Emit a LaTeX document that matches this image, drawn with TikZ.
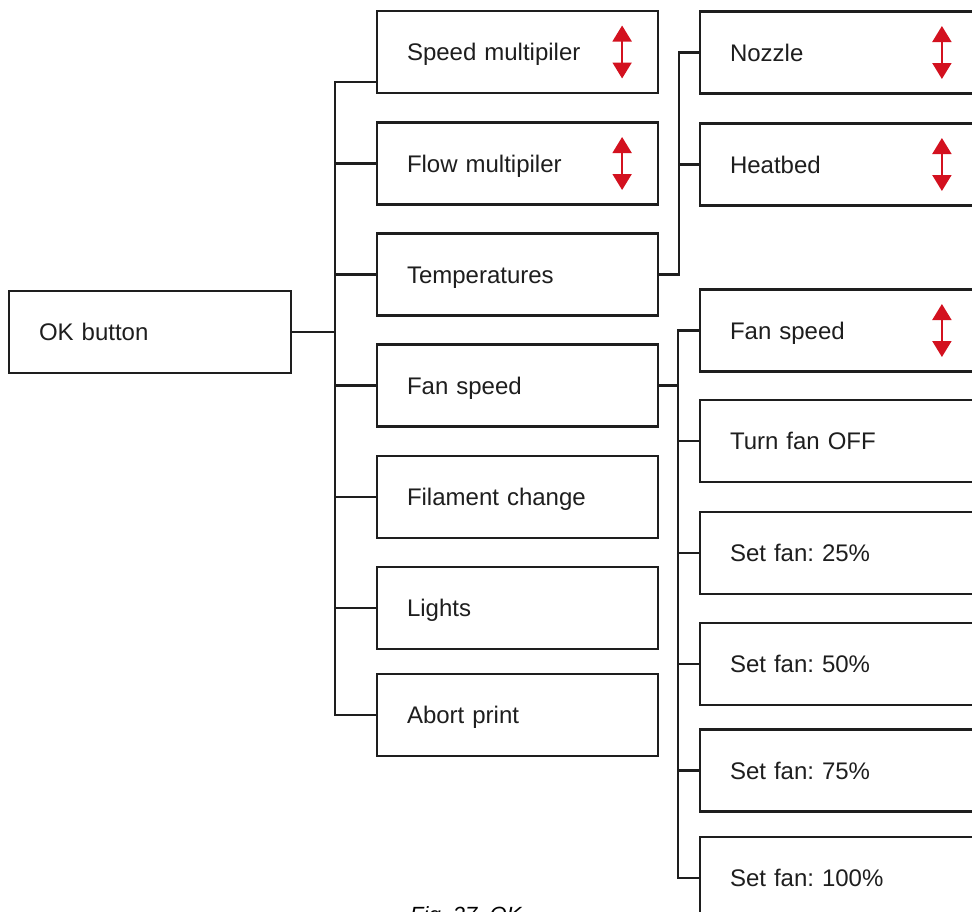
\documentclass[tikz,border=0pt]{standalone}
\usepackage{fontspec}
\setmainfont{Liberation Sans}
\usetikzlibrary{arrows.meta}
\frenchspacing

\definecolor{ink}{HTML}{1E1E1E}
\definecolor{menured}{HTML}{D3111F}

\tikzset{
  menubox/.style={draw=ink, line width=2.2pt, fill=white, rectangle,
    minimum height=82pt, inner ysep=0pt, inner xsep=30pt,
    text width=#1, align=left, text height=17.2pt, text depth=0pt,
    font=\fontsize{24}{28}\selectfont, text=ink},
  midbox/.style={menubox=221pt},
  subbox/.style={menubox=240pt},
  rootbox/.style={menubox=222pt},
  link/.style={draw=ink, line width=2.2pt},
  updown/.style={draw=menured, line width=2pt,
    {Triangle[width=19pt,length=16pt]}-{Triangle[width=19pt,length=16pt]}},
  caption/.style={font=\fontsize{22}{26}\selectfont\itshape, text=black,
    anchor=base west, inner sep=0pt},
}

\begin{document}
\begin{tikzpicture}[x=1pt, y=-1pt]
  \useasboundingbox (0,0) rectangle (972,911);
  \clip (0,0) rectangle (972,911);

  % root
  \node[rootbox] (ok) at (150,332) {OK button};

  % first level
  \node[midbox] (speed)    at (517.5,52)    {Speed multipiler};
  \node[midbox] (flow)     at (517.5,163.5) {Flow multipiler};
  \node[midbox] (temps)    at (517.5,274.5) {Temperatures};
  \node[midbox] (fan)      at (517.5,385.5) {Fan speed};
  \node[midbox] (filament) at (517.5,497)   {Filament change};
  \node[midbox] (lights)   at (517.5,608)   {Lights};
  \node[midbox] (abort)    at (517.5,715)   {Abort print};

  % second level: temperatures
  \node[subbox] (nozzle)  at (850,52.5)  {Nozzle};
  \node[subbox] (heatbed) at (850,164.5) {Heatbed};

  % second level: fan
  \node[subbox] (fanspeed) at (850,330.5) {Fan speed};
  \node[subbox] (fanoff)   at (850,441)   {Turn fan OFF};
  \node[subbox] (fan25)    at (850,553)   {Set fan: 25\%};
  \node[subbox] (fan50)    at (850,664)   {Set fan: 50\%};
  \node[subbox] (fan75)    at (850,770.5) {Set fan: 75\%};
  \node[subbox] (fan100)   at (850,878)   {Set fan: 100\%};

  % trunk positions
  \coordinate (t1) at (335,332);
  \coordinate (t2) at (679,274.5);
  \coordinate (t3) at (678,385.5);

  % root to first level
  \draw[link] (ok.east) -- (t1);
  \draw[link] ([yshift=12pt]speed.south west) -| (t1) |- (abort.west);
  \foreach \n in {flow,temps,fan,filament,lights}
    \draw[link] (\n.west) -- (\n.west -| t1);

  % temperatures branch
  \draw[link] (temps.east) -- (t2) |- (nozzle.west);
  \draw[link] (heatbed.west) -- (heatbed.west -| t2);

  % fan branch
  \draw[link] (fan.east) -- (t3);
  \draw[link] (fanspeed.west) -| (t3) |- (fan100.west);
  \foreach \n in {fanoff,fan25,fan50,fan75}
    \draw[link] (\n.west) -- (\n.west -| t3);

  % adjustable values
  \foreach \n/\dx in {speed/-37, flow/-37}
    \draw[updown] ([xshift=\dx pt, yshift=26.5pt]\n.east) -- ([xshift=\dx pt, yshift=-26.5pt]\n.east);
  \foreach \n in {nozzle,heatbed,fanspeed}
    \draw[updown] ([xshift=243pt, yshift=26.5pt]\n.west) -- ([xshift=243pt, yshift=-26.5pt]\n.west);

  % caption, running off the lower edge
  \node[caption] (cap) at (410,922) {Fig. 27. OK};
\end{tikzpicture}
\end{document}
